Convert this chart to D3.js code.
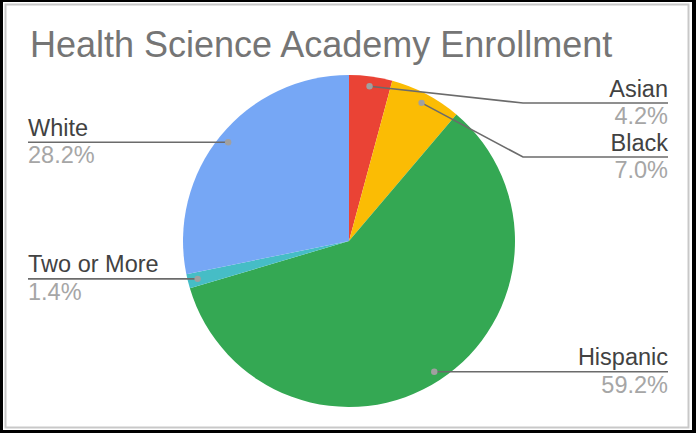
<!DOCTYPE html>
<html>
<head>
<meta charset="utf-8">
<script src="https://cdn.jsdelivr.net/npm/d3@7"></script>
<style>
  html, body { margin: 0; padding: 0; background: #000; }
  svg { display: block; font-family: "Liberation Sans", Arial, sans-serif; }
</style>
</head>
<body>
<svg id="chart" width="696" height="433"></svg>
<script>
// chart data
const title = "Health Science Academy Enrollment";
const categories = ["Asian", "Black", "Hispanic", "Two or More", "White"];
const values = [4.2, 7.0, 59.2, 1.4, 28.2];
const colors = ["#ea4335", "#fbbc04", "#34a853", "#46bdc6", "#76a7f5"];

const W = 696, H = 433;
const cx = 349, cy = 241, R = 166;

const svg = d3.select("#chart");

// frame
svg.append("rect").attr("x", 3).attr("y", 2).attr("width", 689).attr("height", 428).attr("fill", "#fff");
svg.append("rect").attr("x", 5.5).attr("y", 4.5).attr("width", 683).attr("height", 423)
  .attr("fill", "none").attr("stroke", "#c8c8c8").attr("stroke-width", 2);

svg.append("text")
  .attr("x", 30).attr("y", 57)
  .attr("font-size", 36).attr("fill", "#757575")
  .text(title);

const data = categories.map((c, i) => ({ name: c, value: values[i], color: colors[i] }));

const pie = d3.pie().value(d => d.value).sort(null);
const arcs = pie(data);
const arc = d3.arc().innerRadius(0).outerRadius(R);
const dotArc = d3.arc().innerRadius(R * 0.94).outerRadius(R * 0.94);

const g = svg.append("g").attr("transform", `translate(${cx},${cy})`);
g.selectAll("path.slice").data(arcs).join("path")
  .attr("class", "slice")
  .attr("d", arc)
  .attr("fill", d => d.data.color);

// label layout: each side stacks labels downward without overlap
const gap = 54, minY = 103;
const rightX = 668, leftX = 28, kinkX = 523;
const pts = arcs.map(a => {
  const c = dotArc.centroid(a);
  return { a, x: c[0] + cx, y: c[1] + cy, right: c[0] > 0 };
});
["right", "left"].forEach(side => {
  const list = pts.filter(p => (side === "right") === p.right).sort((p, q) => p.y - q.y);
  let prev = -Infinity;
  list.forEach(p => {
    p.ly = Math.max(p.y, minY, prev + gap);
    prev = p.ly;
  });
});

const lab = svg.append("g");
pts.forEach(p => {
  const pth = p.right
    ? [[p.x, p.y], [kinkX, p.ly], [rightX, p.ly]]
    : [[p.x, p.y], [leftX, p.ly]];
  lab.append("path")
    .attr("d", d3.line()(pth))
    .attr("fill", "none").attr("stroke", "#6b6b6b").attr("stroke-width", 1.6);
  lab.append("circle").attr("cx", p.x).attr("cy", p.y).attr("r", 3.2).attr("fill", "#a0a0a0");
  const tx = p.right ? rightX : leftX;
  const anchor = p.right ? "end" : "start";
  lab.append("text")
    .attr("x", tx).attr("y", p.ly - 6.5)
    .attr("text-anchor", anchor).attr("font-size", 23.5).attr("fill", "#424242")
    .text(p.a.data.name);
  lab.append("text")
    .attr("x", tx).attr("y", p.ly + 21)
    .attr("text-anchor", anchor).attr("font-size", 23.5).attr("fill", "#a6a6a6")
    .text(d3.format(".1f")(p.a.data.value) + "%");
});
</script>
</body>
</html>
